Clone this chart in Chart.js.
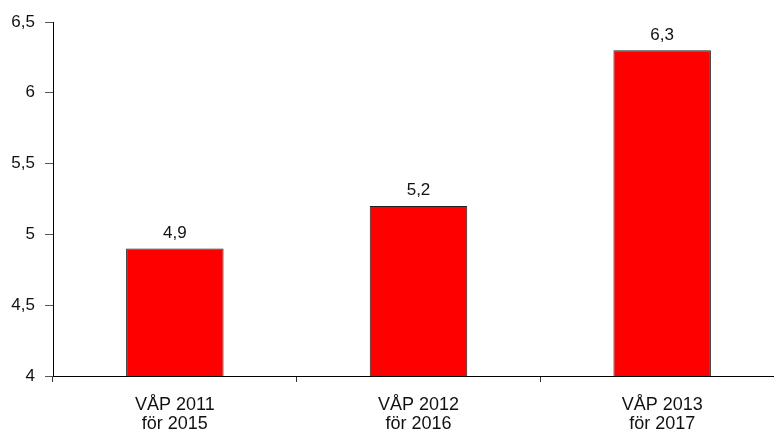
<!DOCTYPE html>
<html>
<head>
<meta charset="utf-8">
<script src="https://cdn.jsdelivr.net/npm/chart.js@4/dist/chart.umd.min.js"></script>
<style>
  html, body { margin: 0; padding: 0; background: #fff; overflow: hidden; }
  #wrap { width: 790px; height: 434px; }
</style>
</head>
<body>
<div id="wrap"><canvas id="chart"></canvas></div>
<script>
const labels = [["VÅP 2011", "för 2015"], ["VÅP 2012", "för 2016"], ["VÅP 2013", "för 2017"]];
const values = [4.9, 5.2, 6.3];
const yTicks = [4, 4.5, 5, 5.5, 6, 6.5];

const fmt = (v) => String(v).replace(".", ",");

// draw the value above each bar
const valueLabels = {
    id: "valueLabels",
    afterDatasetsDraw(chart) {
        const ctx = chart.ctx;
        const meta = chart.getDatasetMeta(0);
        ctx.save();
        ctx.font = "17px 'Liberation Sans', Arial, sans-serif";
        ctx.fillStyle = "#111";
        ctx.textAlign = "center";
        ctx.textBaseline = "bottom";
        meta.data.forEach((bar, i) => {
            ctx.fillText(fmt(values[i]), bar.x, bar.y - 7);
        });
        ctx.restore();
    }
};

new Chart(document.getElementById("chart"), {
    type: "bar",
    data: {
        labels: labels,
        datasets: [{
            data: values,
            backgroundColor: "#ff0000",
            borderColor: "#222",
            borderWidth: 1,
            borderSkipped: false,
            categoryPercentage: 1,
            barPercentage: 0.4
        }]
    },
    options: {
        responsive: true,
        maintainAspectRatio: false,
        animation: false,
        layout: { padding: { top: 22, right: 6, bottom: 0, left: 0 } },
        plugins: {
            legend: { display: false },
            tooltip: { enabled: false }
        },
        scales: {
            x: {
                offset: true,
                border: { color: "#000", width: 1 },
                grid: {
                    offset: true,
                    drawOnChartArea: false,
                    drawTicks: true,
                    tickLength: 6,
                    color: "#333"
                },
                ticks: {
                    color: "#111",
                    padding: 14,
                    maxRotation: 0,
                    font: { family: "'Liberation Sans', Arial, sans-serif", size: 18, lineHeight: 1.05 }
                },
                afterFit(scale) { scale.height = 58; }
            },
            y: {
                min: 4,
                max: 6.5,
                border: { color: "#000", width: 1 },
                grid: {
                    drawOnChartArea: false,
                    drawTicks: true,
                    tickLength: 8,
                    color: "#555"
                },
                afterBuildTicks(scale) {
                    scale.ticks = yTicks.map(v => ({ value: v }));
                },
                ticks: {
                    color: "#111",
                    padding: 10,
                    font: { family: "'Liberation Sans', Arial, sans-serif", size: 17 },
                    callback: (v) => fmt(v)
                },
                afterFit(scale) { scale.width = 53; }
            }
        }
    },
    plugins: [valueLabels]
});
</script>
</body>
</html>
